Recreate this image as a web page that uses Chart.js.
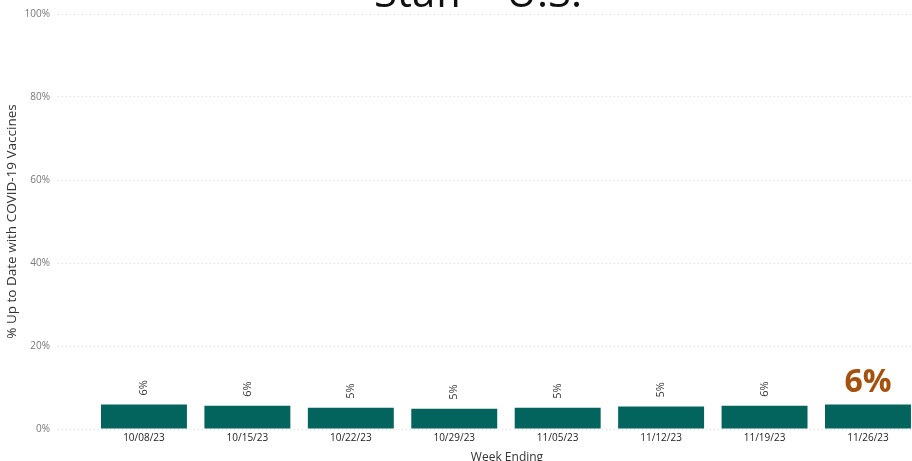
<!DOCTYPE html>
<html>
<head>
<meta charset="utf-8">
<script src="https://cdn.jsdelivr.net/npm/chart.js@4"></script>
<style>
    html, body { margin: 0; padding: 0; background: #fff; overflow: hidden; }
    #wrap { position: relative; width: 912px; height: 461px; overflow: hidden; }
</style>
</head>
<body>
<div id="wrap"><canvas id="staffChart" width="956" height="461"></canvas></div>
<script>
// Weekly staff vaccination coverage (plot runs past the right edge of the frame)

const weeks = ['10/08/23', '10/15/23', '10/22/23', '10/29/23', '11/05/23', '11/12/23', '11/19/23', '11/26/23'];
const upToDate = [5.9, 5.6, 5.1, 4.9, 5.1, 5.4, 5.6, 5.9];
const yTicks = [0, 20, 40, 60, 80, 100];

const titleText = 'Staff – U.S.';
const barColor = '#02645C';
const highlightColor = '#A5510D';

Chart.defaults.font.family = "'Open Sans', 'Noto Sans', sans-serif";

// Title line sitting at the very top edge
const titlePlugin = {
    id: 'topTitle',
    afterDraw(chart) {
        const ctx = chart.ctx;
        ctx.save();
        ctx.font = "42px 'Open Sans', sans-serif";
        ctx.fillStyle = '#111';
        ctx.textAlign = 'center';
        ctx.textBaseline = 'alphabetic';
        ctx.fillText(titleText, 478, 7);
        ctx.restore();
    }
};

// Value labels: rotated small labels, last week called out large
const valueLabels = {
    id: 'valueLabels',
    afterDatasetsDraw(chart) {
        const ctx = chart.ctx;
        const meta = chart.getDatasetMeta(0);
        meta.data.forEach((bar, i) => {
            const text = Math.round(upToDate[i]) + '%';
            ctx.save();
            if (i === upToDate.length - 1) {
                ctx.font = "bold 32px 'Open Sans', sans-serif";
                ctx.fillStyle = highlightColor;
                ctx.textAlign = 'center';
                ctx.textBaseline = 'bottom';
                ctx.fillText(text, bar.x, bar.y - 6);
            } else {
                ctx.font = "11px 'Open Sans', sans-serif";
                ctx.fillStyle = '#333';
                ctx.translate(bar.x, bar.y - 9);
                ctx.rotate(-Math.PI / 2);
                ctx.textAlign = 'left';
                ctx.textBaseline = 'middle';
                ctx.fillText(text, 0, 0);
            }
            ctx.restore();
        });
    }
};

new Chart(document.getElementById('staffChart'), {
    type: 'bar',
    data: {
        datasets: [{
            data: upToDate.map((v, i) => ({ x: i, y: v })),
            backgroundColor: barColor,
            borderWidth: 0,
            categoryPercentage: 0.831,
            barPercentage: 1
        }]
    },
    options: {
        responsive: false,
        animation: false,
        layout: { padding: { top: 14, right: 0, left: 0, bottom: 0 } },
        plugins: {
            legend: { display: false },
            tooltip: { enabled: false }
        },
        scales: {
            x: {
                type: 'linear',
                offset: false,
                min: -0.831,
                max: 7.851,
                grid: { display: false, drawTicks: false },
                border: { display: false },
                ticks: {
                    stepSize: 1,
                    includeBounds: false,
                    autoSkip: false,
                    maxRotation: 0,
                    padding: 3,
                    color: '#222',
                    font: { size: 10 },
                    callback: (v) => weeks[v] ?? ''
                },
                title: {
                    display: true,
                    text: 'Week Ending',
                    color: '#333',
                    font: { size: 12, lineHeight: 1 },
                    padding: { top: 0, bottom: -3 }
                },
                afterFit: (scale) => { scale.height = 32; }
            },
            y: {
                min: 0,
                max: 100,
                grid: { color: '#d9d9d9', drawTicks: false, lineWidth: 1 },
                border: { display: false, dash: [1, 3] },
                ticks: {
                    stepSize: 20,
                    padding: 8,
                    color: '#777',
                    font: { size: 10 },
                    callback: (v) => yTicks.includes(v) ? v + '%' : ''
                },
                title: {
                    display: true,
                    text: '% Up to Date with COVID-19 Vaccines',
                    color: '#333',
                    font: { size: 13.5 },
                    padding: { top: 4, bottom: 0 }
                },
                afterFit: (scale) => { scale.width = 58; }
            }
        }
    },
    plugins: [valueLabels, titlePlugin]
});
</script>
</body>
</html>
